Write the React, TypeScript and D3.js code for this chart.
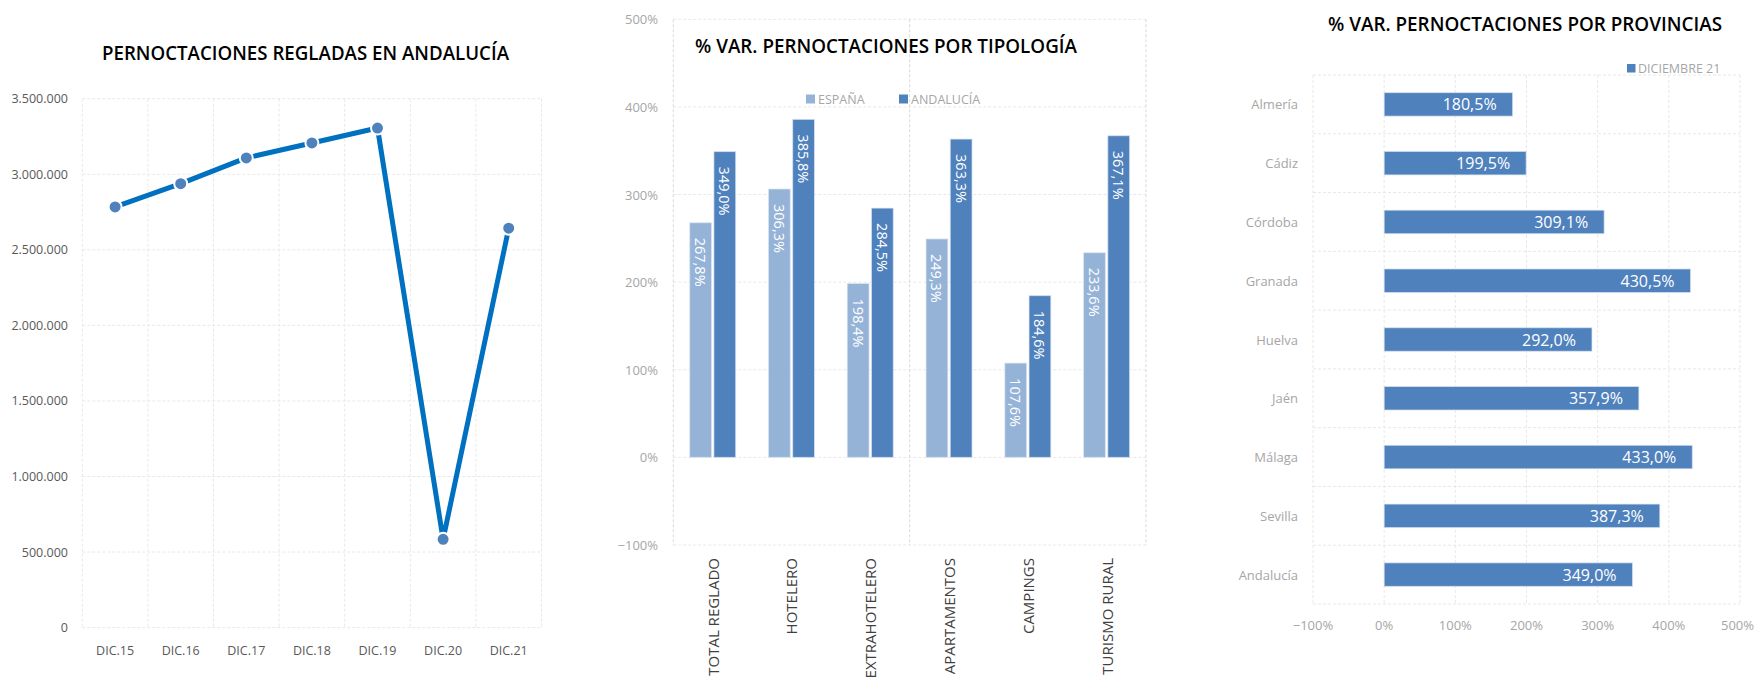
import React from "react";
import * as d3 from "d3";

// ---------- DATA ----------
const years = ["DIC.15", "DIC.16", "DIC.17", "DIC.18", "DIC.19", "DIC.20", "DIC.21"];
const pernoctaciones = [2784000, 2938000, 3108000, 3207000, 3306000, 584000, 2643000];
const yTicks1 = [0, 500000, 1000000, 1500000, 2000000, 2500000, 3000000, 3500000];

const tipologias = ["TOTAL REGLADO", "HOTELERO", "EXTRAHOTELERO", "APARTAMENTOS", "CAMPINGS", "TURISMO RURAL"];
const seriesNames = ["ESPAÑA", "ANDALUCÍA"];
const espana = [267.8, 306.3, 198.4, 249.3, 107.6, 233.6];
const andalucia = [349.0, 385.8, 284.5, 363.3, 184.6, 367.1];
const yTicks2 = [-100, 0, 100, 200, 300, 400, 500];

const provincias = ["Almería", "Cádiz", "Córdoba", "Granada", "Huelva", "Jaén", "Málaga", "Sevilla", "Andalucía"];
const diciembre21 = [180.5, 199.5, 309.1, 430.5, 292.0, 357.9, 433.0, 387.3, 349.0];
const xTicks3 = [-100, 0, 100, 200, 300, 400, 500];
const legend3 = "DICIEMBRE 21";

const titles = [
  "PERNOCTACIONES REGLADAS EN ANDALUCÍA",
  "% VAR. PERNOCTACIONES POR TIPOLOGÍA",
  "% VAR. PERNOCTACIONES POR PROVINCIAS",
];

// ---------- STYLE ----------
const FONT = "'Open Sans', 'Noto Sans', sans-serif";
const LIGHT = "#95B3D7";
const DARK = "#4F81BD";
const LINE = "#0070C0";
const GRID = "#E8E8E8";

const es = d3.formatLocale({ decimal: ",", thousands: ".", grouping: [3], currency: ["", "€"] });
const fmtInt = es.format(",d");
const fmtPct = (v: number) => es.format(".1f")(v) + "%";
const fmtTick = (v: number) => es.format("d")(v) + "%";

function LineChart() {
  const x = d3.scaleBand<string>().domain(years).range([82.3, 541.5]);
  const y = d3.scaleLinear().domain([0, 3500000]).range([627.6, 98.7]);
  const line = d3
    .line<number>()
    .x((_, i) => (x(years[i]) as number) + x.bandwidth() / 2)
    .y((d) => y(d));
  const bounds = years.map((c) => x(c) as number).concat([x.range()[1]]);
  return (
    <g>
      <text x={305.5} y={52} textAnchor="middle" dominantBaseline="central" fontFamily={FONT} fontSize={19.5} fontWeight={600} fill="#000" textLength={407} lengthAdjust="spacingAndGlyphs">
        {titles[0]}
      </text>
      {yTicks1.map((t) => (
        <g key={t}>
          <line x1={x.range()[0]} x2={x.range()[1]} y1={y(t)} y2={y(t)} stroke={GRID} strokeDasharray="3 2" />
          <text x={68} y={y(t)} textAnchor="end" dominantBaseline="central" fontFamily={FONT} fontSize={12.5} fill="#595959">
            {fmtInt(t)}
          </text>
        </g>
      ))}
      {bounds.map((b, i) => (
        <line key={i} x1={b} x2={b} y1={y(3500000)} y2={y(0)} stroke={GRID} strokeDasharray="3 2" />
      ))}
      {years.map((c) => (
        <text key={c} x={(x(c) as number) + x.bandwidth() / 2} y={650} textAnchor="middle" dominantBaseline="central" fontFamily={FONT} fontSize={12.5} fill="#595959">
          {c}
        </text>
      ))}
      <path d={line(pernoctaciones) as string} fill="none" stroke={LINE} strokeWidth={5} strokeLinejoin="round" />
      {pernoctaciones.map((v, i) => (
        <circle key={i} cx={(x(years[i]) as number) + x.bandwidth() / 2} cy={y(v)} r={6.5} fill={DARK} stroke="#fff" strokeWidth={2} />
      ))}
    </g>
  );
}

function ColumnChart() {
  const x = d3.scaleBand<string>().domain(tipologias).range([673.3, 1146]);
  const y = d3.scaleLinear().domain([-100, 500]).range([545, 19.3]);
  const bw = x.bandwidth();
  const x1 = d3.scaleBand<string>().domain(seriesNames).range([bw / 2 - 23, bw / 2 + 23]).paddingInner(0.1);
  const data = [espana, andalucia];
  const colors = [LIGHT, DARK];
  return (
    <g>
      {yTicks2.map((t) => (
        <g key={t}>
          <line x1={x.range()[0]} x2={x.range()[1]} y1={y(t)} y2={y(t)} stroke={GRID} strokeDasharray="3 2" />
          <text x={658} y={y(t)} textAnchor="end" dominantBaseline="central" fontFamily={FONT} fontSize={13} fill="#A6A6A6">
            {fmtTick(t)}
          </text>
        </g>
      ))}
      {[0, 3, 6].map((k) => {
        const bx = k < tipologias.length ? (x(tipologias[k]) as number) : x.range()[1];
        return <line key={k} x1={bx} x2={bx} y1={y(500)} y2={y(-100)} stroke="#D9D9D9" strokeDasharray="3 2" />;
      })}
      <text x={886} y={45} textAnchor="middle" dominantBaseline="central" fontFamily={FONT} fontSize={19.5} fontWeight={600} fill="#000" textLength={382} lengthAdjust="spacingAndGlyphs">
        {titles[1]}
      </text>
      {seriesNames.map((s, i) => {
        const lx = i === 0 ? 806 : 899;
        return (
          <g key={s}>
            <rect x={lx} y={94.5} width={9} height={9} fill={colors[i]} />
            <text x={lx + 12} y={99} dominantBaseline="central" fontFamily={FONT} fontSize={12.5} fill="#A6A6A6">
              {s}
            </text>
          </g>
        );
      })}
      {tipologias.map((c, ci) => (
        <g key={c}>
          {data.map((arr, si) => {
            const bx = (x(c) as number) + (x1(seriesNames[si]) as number);
            const top = y(arr[ci]);
            const cx = bx + x1.bandwidth() / 2;
            return (
              <g key={si}>
                <rect x={bx} y={top} width={x1.bandwidth()} height={y(0) - top} fill={colors[si]} stroke="#DCE6F2" strokeOpacity={0.7} strokeWidth={1} />
                <text transform={`translate(${cx},${top + 15}) rotate(90)`} dominantBaseline="central" fontFamily={FONT} fontSize={14.5} fill="#fff">
                  {fmtPct(arr[ci])}
                </text>
              </g>
            );
          })}
          <text transform={`translate(${(x(c) as number) + bw / 2},558) rotate(-90)`} textAnchor="end" dominantBaseline="central" fontFamily={FONT} fontSize={15} fill="#404040">
            {c}
          </text>
        </g>
      ))}
    </g>
  );
}

function BarChart() {
  const x = d3.scaleLinear().domain([-100, 500]).range([1313, 1740]);
  const y = d3.scaleBand<string>().domain(provincias).range([75, 604]).paddingInner(0.6).paddingOuter(0.3);
  const step = y.step();
  const rowBounds = d3.range(provincias.length + 1).map((i) => 75 + i * step);
  return (
    <g>
      <text x={1525} y={23} textAnchor="middle" dominantBaseline="central" fontFamily={FONT} fontSize={19.5} fontWeight={600} fill="#000" textLength={394} lengthAdjust="spacingAndGlyphs">
        {titles[2]}
      </text>
      <rect x={1627} y={64} width={8.5} height={8.5} fill={DARK} />
      <text x={1638} y={68.5} dominantBaseline="central" fontFamily={FONT} fontSize={12.5} fill="#A6A6A6">
        {legend3}
      </text>
      {rowBounds.map((b, i) => (
        <line key={i} x1={x(-100)} x2={x(500)} y1={b} y2={b} stroke={GRID} strokeDasharray="3 2" />
      ))}
      {xTicks3.map((t, i) => {
        const last = i === xTicks3.length - 1;
        return (
          <g key={t}>
            <line x1={x(t)} x2={x(t)} y1={75} y2={604} stroke={GRID} strokeDasharray="3 2" />
            <text x={last ? 1754 : x(t)} y={625} textAnchor={last ? "end" : "middle"} dominantBaseline="central" fontFamily={FONT} fontSize={13} fill="#A6A6A6">
              {fmtTick(t)}
            </text>
          </g>
        );
      })}
      {provincias.map((p, i) => {
        const by = y(p) as number;
        const v = diciembre21[i];
        return (
          <g key={p}>
            <text x={1298} y={by + y.bandwidth() / 2} textAnchor="end" dominantBaseline="central" fontFamily={FONT} fontSize={13} fill="#A6A6A6">
              {p}
            </text>
            <rect x={x(0)} y={by} width={x(v) - x(0)} height={y.bandwidth()} fill={DARK} stroke="#DCE6F2" strokeOpacity={0.7} strokeWidth={1} />
            <text x={x(v) - 16} y={by + y.bandwidth() / 2} textAnchor="end" dominantBaseline="central" fontFamily={FONT} fontSize={16} fill="#fff">
              {fmtPct(v)}
            </text>
          </g>
        );
      })}
    </g>
  );
}

export default function App() {
  return (
    <div style={{ position: "absolute", left: 0, top: 0, width: 1755, height: 680, background: "#fff" }}>
      <svg width={1755} height={680} style={{ display: "block" }}>
        <rect width={1755} height={680} fill="#fff" />
        <LineChart />
        <ColumnChart />
        <BarChart />
      </svg>
    </div>
  );
}
